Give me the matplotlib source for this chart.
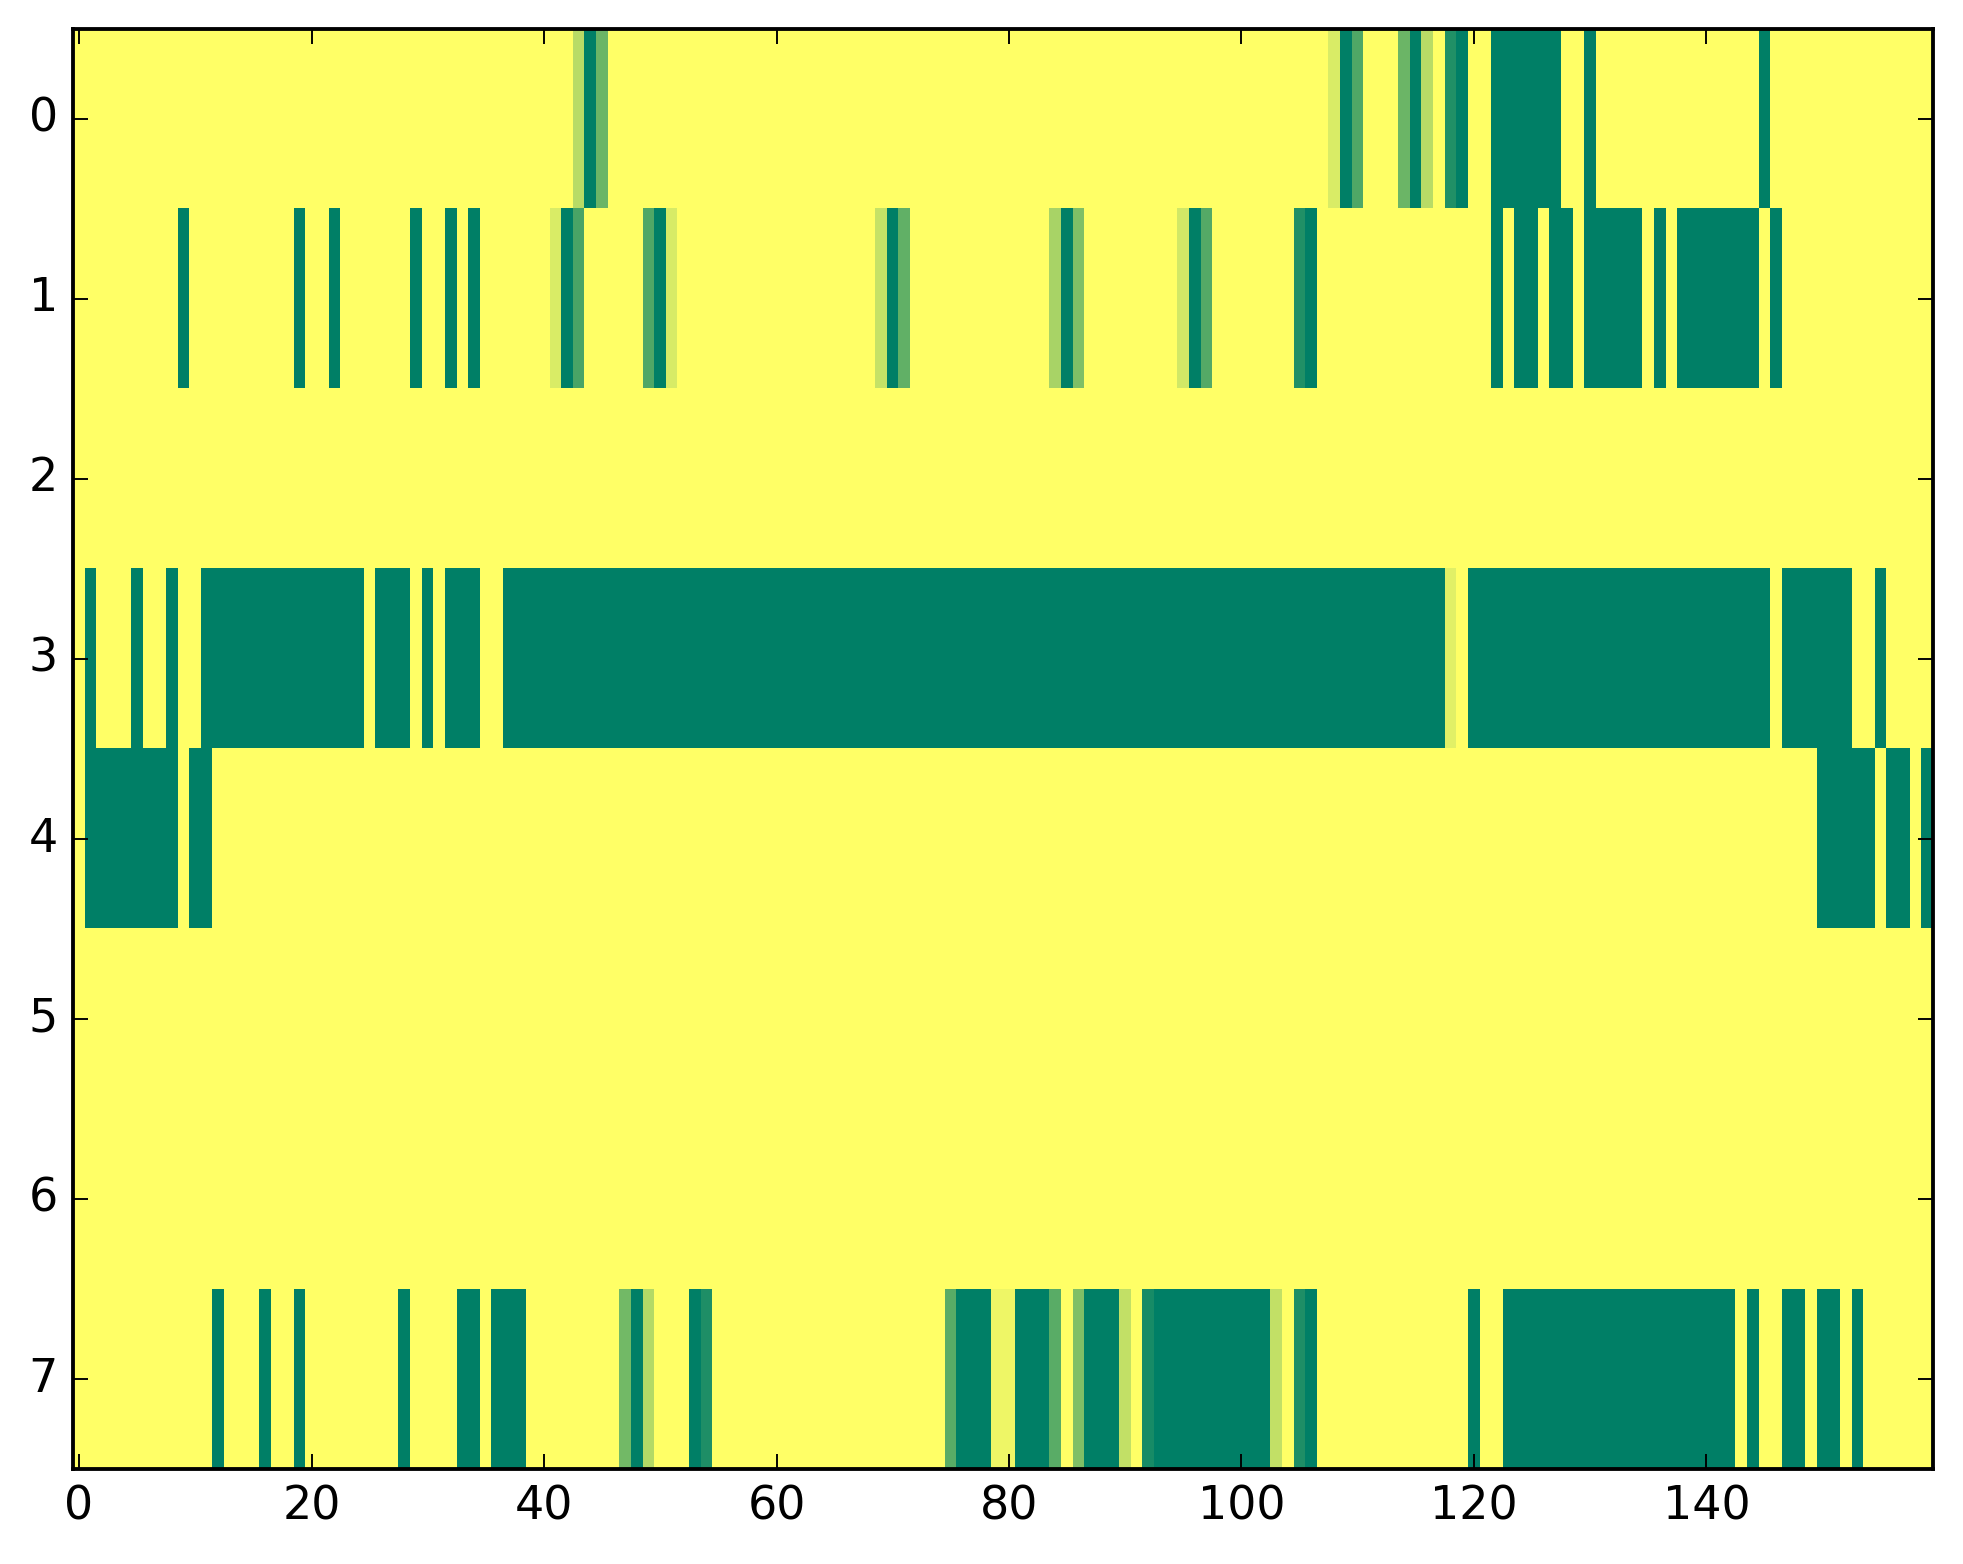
import numpy as np
import matplotlib
matplotlib.use("Agg")
import matplotlib.pyplot as plt

plt.style.use("classic")

N_ROWS = 8
N_COLS = 160

# green runs per row: (first col, last col, value), 1 = full green, 0 = yellow
row0 = [(43, 43, 0.28), (44, 44, 1), (45, 45, 0.58),
        (108, 108, 0.15), (109, 109, 1), (110, 110, 0.69),
        (114, 114, 0.58), (115, 115, 1), (116, 116, 0.28),
        (118, 118, 0.87), (119, 119, 1), (122, 127, 1), (130, 130, 1), (145, 145, 1)]
row1 = [(9, 9, 1), (19, 19, 1), (22, 22, 1), (29, 29, 1), (32, 32, 1), (34, 34, 1),
        (41, 41, 0.15), (42, 42, 1), (43, 43, 0.71),
        (49, 49, 0.69), (50, 50, 1), (51, 51, 0.16),
        (69, 69, 0.23), (70, 70, 1), (71, 71, 0.62),
        (84, 84, 0.34), (85, 85, 1), (86, 86, 0.5),
        (95, 95, 0.18), (96, 96, 1), (97, 97, 0.67),
        (105, 105, 0.87), (106, 106, 1),
        (122, 122, 1), (124, 125, 1), (127, 128, 1), (130, 134, 1),
        (136, 136, 1), (138, 144, 1), (146, 146, 1)]
row2 = []
row3 = [(1, 1, 1), (5, 5, 1), (8, 8, 1), (11, 24, 1), (26, 28, 1), (30, 30, 1),
        (32, 34, 1), (37, 117, 1), (118, 118, 0.12), (120, 145, 1), (147, 152, 1),
        (155, 155, 1)]
row4 = [(1, 8, 1), (10, 11, 1), (150, 154, 1), (156, 157, 1), (159, 159, 1)]
row5 = []
row6 = []
row7 = [(12, 12, 1), (16, 16, 1), (19, 19, 1), (28, 28, 1), (33, 34, 1), (36, 38, 1),
        (47, 47, 0.55), (48, 48, 1), (49, 49, 0.30), (53, 53, 1), (54, 54, 0.88),
        (75, 75, 0.65), (76, 78, 1), (79, 80, 0.07), (81, 83, 1), (84, 84, 0.65),
        (86, 86, 0.5), (87, 89, 1), (90, 90, 0.24), (92, 92, 0.91), (93, 102, 1),
        (103, 103, 0.24), (105, 105, 0.88), (106, 106, 1), (120, 120, 1),
        (123, 142, 1), (144, 144, 1), (147, 148, 1), (150, 151, 1), (153, 153, 1)]

rows = [row0, row1, row2, row3, row4, row5, row6, row7]

grid = np.zeros((N_ROWS, N_COLS))
for r, runs in enumerate(rows):
    for start, stop, val in runs:
        grid[r, start:stop + 1] = val

DPI = 276
fig = plt.figure(figsize=(1963 / DPI, 1564 / DPI), dpi=DPI)
ax = fig.add_axes([0.0373, 0.0607, 0.9475, 0.9208])
ax.imshow(grid, cmap="summer_r", vmin=0, vmax=1, aspect="auto",
          interpolation="nearest")
ax.set_xticks(np.arange(0, 141, 20))
ax.set_yticks(np.arange(0, 8))
ax.set_xlim(-0.5, N_COLS - 0.5)
ax.set_ylim(N_ROWS - 0.5, -0.5)

fig.savefig("out.png", dpi=DPI)
